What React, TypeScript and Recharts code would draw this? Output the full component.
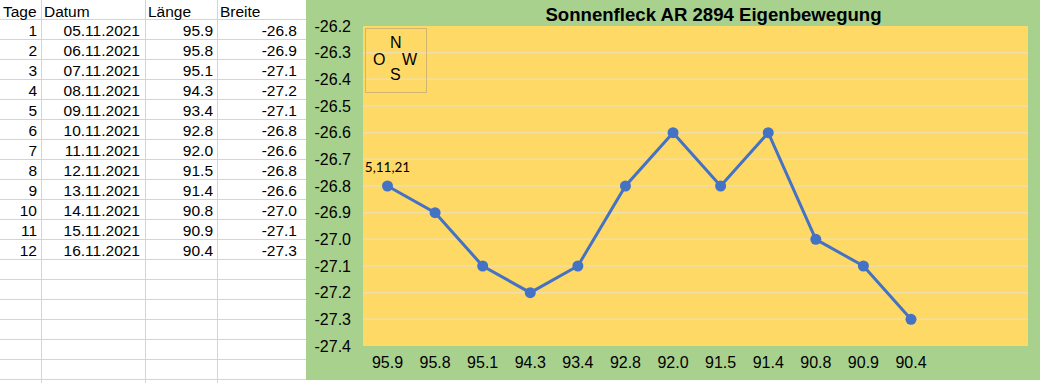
import React from "react";
import { LineChart, Line, XAxis, YAxis, CartesianGrid } from "recharts";

const tage = [1, 2, 3, 4, 5, 6, 7, 8, 9, 10, 11, 12];
const datum = [
  "05.11.2021", "06.11.2021", "07.11.2021", "08.11.2021", "09.11.2021", "10.11.2021",
  "11.11.2021", "12.11.2021", "13.11.2021", "14.11.2021", "15.11.2021", "16.11.2021",
];
const laenge = ["95.9", "95.8", "95.1", "94.3", "93.4", "92.8", "92.0", "91.5", "91.4", "90.8", "90.9", "90.4"];
const breite = [-26.8, -26.9, -27.1, -27.2, -27.1, -26.8, -26.6, -26.8, -26.6, -27.0, -27.1, -27.3];
const yTicks = [-27.4, -27.3, -27.2, -27.1, -27.0, -26.9, -26.8, -26.7, -26.6, -26.5, -26.4, -26.3, -26.2];
const gridValues = [-27.3, -27.2, -27.1, -27.0, -26.9, -26.8, -26.7, -26.6, -26.5, -26.4, -26.3];
const headers = ["Tage", "Datum", "Länge", "Breite"];
const title = "Sonnenfleck AR 2894 Eigenbewegung";
const firstPointLabel = "5,11,21";

const data = laenge.map((l, i) => ({ laenge: l, breite: breite[i] }));

const FONT = "'Liberation Sans', Arial, sans-serif";
const GREEN = "#A9D18E";
const YELLOW = "#FFD966";
const BLUE = "#4472C4";
const CELL_LINE = "#D4D4D4";

const colLines = [41, 145, 217];
const rowCount = 19;

function Table() {
  const cells: React.ReactNode[] = [];
  const cols = [
    { left: 0, right: 41 },
    { left: 41, right: 145 },
    { left: 145, right: 217 },
    { left: 217, right: 306 },
  ];
  headers.forEach((h, c) => {
    cells.push(
      <div key={"h" + c} style={{ position: "absolute", left: cols[c].left + 3, top: 2, height: 20, lineHeight: "20px", whiteSpace: "nowrap" }}>
        {h}
      </div>
    );
  });
  tage.forEach((t, i) => {
    const vals = [String(t), datum[i], laenge[i], breite[i].toFixed(1)];
    const rightEdges = [37, 140, 213, 297];
    vals.forEach((v, c) => {
      cells.push(
        <div
          key={"c" + i + "_" + c}
          style={{
            position: "absolute",
            left: cols[c].left,
            width: rightEdges[c] - cols[c].left,
            textAlign: "right",
            top: 20 * (i + 1) + 1,
            height: 20,
            lineHeight: "20px",
            whiteSpace: "nowrap",
          }}
        >
          {v}
        </div>
      );
    });
  });
  const lines: React.ReactNode[] = [];
  for (let r = 0; r < rowCount; r++) {
    lines.push(
      <div key={"r" + r} style={{ position: "absolute", left: 0, width: 306, top: 19 + 20 * r, height: 1, background: CELL_LINE }} />
    );
  }
  colLines.forEach((x, i) =>
    lines.push(<div key={"v" + i} style={{ position: "absolute", left: x, top: 0, width: 1, height: 383, background: CELL_LINE }} />)
  );
  return (
    <div style={{ position: "absolute", left: 0, top: 0, width: 306, height: 383, fontSize: 15.5, fontFamily: FONT, color: "#000" }}>
      {lines}
      {cells}
    </div>
  );
}

const renderFirstLabel = (props: any) => {
  if (props.index !== 0) return <g />;
  return (
    <text x={props.x} y={props.y - 14} textAnchor="middle" fontFamily="Lato, 'Open Sans', sans-serif" fontSize={13.5} fill="#000">
      {firstPointLabel}
    </text>
  );
};

export default function App() {
  return (
    <div style={{ position: "fixed", left: 0, top: 0, width: 1040, height: 383, background: "#fff", overflow: "hidden", fontFamily: FONT }}>
      <Table />
      <div style={{ position: "absolute", left: 306, top: 0, width: 734, height: 380, background: GREEN }}>
        <LineChart width={734} height={380} data={data} margin={{ top: 26, right: 12, left: 0, bottom: 4 }}>
          <CartesianGrid vertical={false} fill={YELLOW} fillOpacity={1} stroke="#EEDDAE" strokeWidth={1.5} horizontalValues={gridValues} />
          <XAxis
            dataKey="laenge"
            type="category"
            interval={0}
            padding={{ left: 24.5, right: 117 }}
            axisLine={false}
            tickLine={false}
            height={30}
            tickMargin={5}
            tick={{ fill: "#000", fontSize: 16, fontFamily: FONT }}
          />
          <YAxis
            width={57}
            type="number"
            domain={[-27.4, -26.2]}
            ticks={yTicks}
            interval={0}
            allowDataOverflow
            tickFormatter={(v: number) => v.toFixed(1)}
            axisLine={false}
            tickLine={false}
            tickMargin={6}
            tick={{ fill: "#000", fontSize: 16, fontFamily: FONT }}
          />
          <Line
            type="linear"
            dataKey="breite"
            stroke={BLUE}
            strokeWidth={3}
            dot={{ r: 5.5, fill: BLUE, stroke: BLUE, strokeWidth: 0 }}
            activeDot={false}
            isAnimationActive={false}
            label={renderFirstLabel}
          />
        </LineChart>
        <div
          style={{
            position: "absolute",
            left: 713.5 - 306 - 250,
            width: 500,
            top: 4,
            textAlign: "center",
            fontWeight: "bold",
            fontSize: 18.6,
            lineHeight: "22px",
            color: "#000",
          }}
        >
          {title}
        </div>
        <div
          style={{
            position: "absolute",
            left: 365 - 306,
            top: 28,
            width: 62,
            height: 65,
            border: "1px solid #D2B56E",
            boxSizing: "border-box",
            fontSize: 16,
            color: "#000",
          }}
        >
          <span style={{ position: "absolute", left: 30 - 6, top: 5, lineHeight: "18px" }}>N</span>
          <span style={{ position: "absolute", left: 14 - 7, top: 22, lineHeight: "18px" }}>O</span>
          <span style={{ position: "absolute", left: 44 - 8, top: 22, lineHeight: "18px" }}>W</span>
          <span style={{ position: "absolute", left: 30 - 6, top: 37, lineHeight: "18px" }}>S</span>
        </div>
      </div>
    </div>
  );
}
